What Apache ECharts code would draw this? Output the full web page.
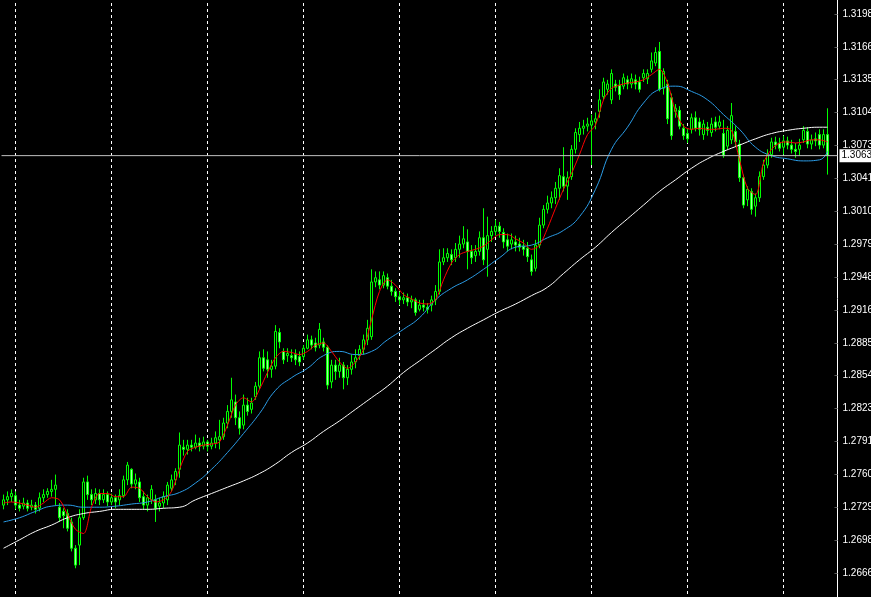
<!DOCTYPE html>
<html><head><meta charset="utf-8">
<script src="https://cdn.jsdelivr.net/npm/echarts@6/dist/echarts.min.js"></script>
<style>html,body{margin:0;padding:0;background:#000;}#c{width:871px;height:597px;}</style>
</head><body><div id="c"></div>
<script>
// Candles: [open, close, low, high]
const ohlc = [
[1.2731,1.2736,1.2727,1.2741],[1.2736,1.2739,1.2731,1.2744],[1.2739,1.2742,1.2734,1.2746],[1.2740,1.2731,1.2727,1.2744],
[1.2731,1.2728,1.2725,1.2736],[1.2730,1.2733,1.2727,1.2738],[1.2733,1.2728,1.2725,1.2736],[1.2729,1.2731,1.2726,1.2736],
[1.2731,1.2727,1.2723,1.2734],[1.2728,1.2738,1.2725,1.2743],[1.2738,1.2741,1.2734,1.2746],[1.2741,1.2744,1.2738,1.2747],
[1.2744,1.2746,1.2739,1.2755],[1.2746,1.2750,1.2731,1.2760],[1.2729,1.2719,1.2715,1.2733],[1.2725,1.2721,1.2709,1.2728],
[1.2723,1.2709,1.2706,1.2727],[1.2715,1.2690,1.2687,1.2719],[1.2690,1.2674,1.2671,1.2693],[1.2693,1.2719,1.2674,1.2727],
[1.2719,1.2753,1.2717,1.2757],[1.2753,1.2741,1.2736,1.2759],[1.2741,1.2736,1.2731,1.2746],[1.2736,1.2742,1.2732,1.2747],
[1.2742,1.2736,1.2731,1.2746],[1.2736,1.2741,1.2733,1.2746],[1.2741,1.2734,1.2730,1.2744],[1.2734,1.2738,1.2731,1.2742],
[1.2738,1.2734,1.2728,1.2741],[1.2736,1.2740,1.2731,1.2746],[1.2740,1.2755,1.2738,1.2759],[1.2755,1.2769,1.2750,1.2772],
[1.2765,1.2751,1.2747,1.2766],[1.2751,1.2755,1.2746,1.2761],[1.2753,1.2738,1.2734,1.2757],[1.2739,1.2731,1.2727,1.2744],
[1.2731,1.2738,1.2725,1.2741],[1.2736,1.2746,1.2732,1.2750],[1.2736,1.2728,1.2715,1.2741],[1.2730,1.2733,1.2725,1.2738],
[1.2733,1.2739,1.2728,1.2744],[1.2736,1.2750,1.2731,1.2753],[1.2747,1.2755,1.2744,1.2760],[1.2755,1.2763,1.2750,1.2766],
[1.2765,1.2788,1.2757,1.2800],[1.2786,1.2784,1.2778,1.2793],[1.2784,1.2788,1.2779,1.2793],[1.2788,1.2786,1.2782,1.2793],
[1.2786,1.2790,1.2784,1.2798],[1.2790,1.2787,1.2782,1.2795],[1.2787,1.2791,1.2784,1.2796],[1.2791,1.2787,1.2782,1.2793],
[1.2787,1.2790,1.2784,1.2795],[1.2790,1.2795,1.2785,1.2801],[1.2793,1.2796,1.2784,1.2812],[1.2796,1.2809,1.2793,1.2814],
[1.2809,1.2820,1.2804,1.2826],[1.2820,1.2831,1.2814,1.2852],[1.2829,1.2814,1.2807,1.2836],[1.2814,1.2804,1.2798,1.2820],
[1.2807,1.2826,1.2803,1.2836],[1.2826,1.2820,1.2816,1.2833],[1.2822,1.2828,1.2818,1.2833],[1.2834,1.2844,1.2831,1.2848],
[1.2844,1.2871,1.2841,1.2877],[1.2871,1.2861,1.2858,1.2879],[1.2869,1.2860,1.2852,1.2877],[1.2860,1.2863,1.2852,1.2869],
[1.2863,1.2896,1.2860,1.2902],[1.2895,1.2886,1.2880,1.2899],[1.2877,1.2869,1.2865,1.2880],[1.2873,1.2875,1.2867,1.2880],
[1.2873,1.2871,1.2867,1.2879],[1.2874,1.2869,1.2864,1.2879],[1.2872,1.2867,1.2863,1.2877],[1.2872,1.2880,1.2869,1.2883],
[1.2880,1.2888,1.2879,1.2893],[1.2888,1.2883,1.2879,1.2892],[1.2885,1.2881,1.2877,1.2890],[1.2883,1.2898,1.2880,1.2904],
[1.2886,1.2881,1.2877,1.2890],[1.2881,1.2845,1.2841,1.2883],[1.2848,1.2864,1.2842,1.2869],[1.2864,1.2858,1.2850,1.2869],
[1.2858,1.2864,1.2852,1.2871],[1.2864,1.2852,1.2841,1.2867],[1.2852,1.2860,1.2845,1.2864],[1.2860,1.2867,1.2855,1.2874],
[1.2867,1.2871,1.2861,1.2879],[1.2873,1.2879,1.2869,1.2883],[1.2879,1.2888,1.2874,1.2893],[1.2888,1.2899,1.2883,1.2907],
[1.2891,1.2943,1.2888,1.2955],[1.2943,1.2947,1.2938,1.2953],[1.2945,1.2940,1.2936,1.2953],[1.2940,1.2949,1.2937,1.2953],
[1.2947,1.2939,1.2936,1.2951],[1.2939,1.2934,1.2930,1.2945],[1.2934,1.2929,1.2924,1.2937],[1.2929,1.2926,1.2921,1.2934],
[1.2926,1.2928,1.2922,1.2933],[1.2928,1.2924,1.2920,1.2932],[1.2924,1.2926,1.2918,1.2930],[1.2926,1.2914,1.2911,1.2928],
[1.2917,1.2921,1.2915,1.2926],[1.2921,1.2919,1.2915,1.2926],[1.2919,1.2917,1.2913,1.2923],[1.2921,1.2926,1.2915,1.2930],
[1.2926,1.2934,1.2921,1.2940],[1.2934,1.2962,1.2931,1.2974],[1.2962,1.2966,1.2959,1.2975],[1.2966,1.2970,1.2962,1.2975],
[1.2969,1.2964,1.2959,1.2974],[1.2966,1.2974,1.2962,1.2980],[1.2974,1.2979,1.2966,1.2987],[1.2979,1.2984,1.2975,1.2996],
[1.2981,1.2972,1.2955,1.2993],[1.2972,1.2966,1.2960,1.2978],[1.2968,1.2972,1.2962,1.2978],[1.2972,1.2985,1.2968,1.2991],
[1.2985,1.2964,1.2959,1.3013],[1.2974,1.2987,1.2948,1.3005],[1.2987,1.2991,1.2981,1.2996],[1.2991,1.2996,1.2987,1.3002],
[1.2996,1.2991,1.2985,1.3000],[1.2990,1.2981,1.2975,1.2994],[1.2983,1.2977,1.2972,1.2989],[1.2979,1.2983,1.2974,1.2989],
[1.2981,1.2978,1.2972,1.2987],[1.2979,1.2976,1.2972,1.2985],[1.2977,1.2974,1.2968,1.2983],[1.2975,1.2967,1.2962,1.2981],
[1.2964,1.2953,1.2949,1.2969],[1.2956,1.2978,1.2953,1.2983],[1.2978,1.2997,1.2975,1.3004],[1.2997,1.3012,1.2994,1.3016],
[1.3012,1.3018,1.3008,1.3025],[1.3018,1.3023,1.3013,1.3029],[1.3023,1.3032,1.3017,1.3038],[1.3032,1.3044,1.3021,1.3051],
[1.3043,1.3034,1.3029,1.3071],[1.3034,1.3042,1.3021,1.3048],[1.3043,1.3069,1.3040,1.3073],[1.3069,1.3085,1.3065,1.3089],
[1.3083,1.3089,1.3076,1.3095],[1.3089,1.3091,1.3083,1.3097],[1.3091,1.3093,1.3086,1.3099],[1.3092,1.3096,1.3054,1.3102],
[1.3095,1.3098,1.3088,1.3104],[1.3105,1.3116,1.3099,1.3126],[1.3119,1.3133,1.3116,1.3137],[1.3126,1.3131,1.3121,1.3135],
[1.3116,1.3141,1.3112,1.3145],[1.3131,1.3128,1.3124,1.3135],[1.3130,1.3121,1.3116,1.3135],[1.3129,1.3137,1.3126,1.3141],
[1.3135,1.3131,1.3126,1.3139],[1.3131,1.3136,1.3127,1.3141],[1.3135,1.3131,1.3126,1.3140],[1.3133,1.3126,1.3123,1.3138],
[1.3137,1.3141,1.3133,1.3145],[1.3136,1.3141,1.3131,1.3145],[1.3145,1.3153,1.3142,1.3161],[1.3151,1.3161,1.3148,1.3166],
[1.3162,1.3126,1.3124,1.3171],[1.3127,1.3143,1.3121,1.3146],[1.3131,1.3098,1.3093,1.3135],[1.3118,1.3082,1.3078,1.3122],
[1.3105,1.3108,1.3099,1.3112],[1.3106,1.3091,1.3088,1.3110],[1.3089,1.3082,1.3078,1.3093],[1.3084,1.3079,1.3075,1.3089],
[1.3088,1.3099,1.3084,1.3103],[1.3099,1.3089,1.3086,1.3105],[1.3095,1.3088,1.3082,1.3099],[1.3083,1.3093,1.3078,1.3097],
[1.3090,1.3087,1.3082,1.3095],[1.3085,1.3093,1.3081,1.3099],[1.3095,1.3090,1.3086,1.3100],[1.3091,1.3095,1.3088,1.3101],
[1.3084,1.3063,1.3061,1.3097],[1.3072,1.3087,1.3069,1.3091],[1.3078,1.3101,1.3074,1.3113],[1.3086,1.3076,1.3072,1.3091],
[1.3074,1.3042,1.3038,1.3078],[1.3042,1.3016,1.3013,1.3045],[1.3021,1.3031,1.3015,1.3034],[1.3029,1.3012,1.3007,1.3032],
[1.3015,1.3023,1.3005,1.3027],[1.3023,1.3043,1.3019,1.3048],[1.3043,1.3054,1.3040,1.3059],[1.3054,1.3064,1.3051,1.3069],
[1.3064,1.3076,1.3061,1.3080],[1.3076,1.3073,1.3069,1.3081],[1.3075,1.3070,1.3067,1.3080],[1.3071,1.3077,1.3064,1.3082],
[1.3077,1.3073,1.3069,1.3081],[1.3073,1.3069,1.3065,1.3078],[1.3069,1.3067,1.3061,1.3075],[1.3069,1.3073,1.3063,1.3079],
[1.3078,1.3087,1.3075,1.3091],[1.3086,1.3074,1.3070,1.3090],[1.3074,1.3078,1.3069,1.3083],[1.3079,1.3077,1.3072,1.3085],
[1.3083,1.3073,1.3069,1.3088],[1.3073,1.3083,1.3070,1.3088],[1.3083,1.3063,1.3045,1.3108]
];
const emptySlots = 2;           // chart shift on the right
const daySeparators = [3, 27, 51, 75, 99, 123, 147, 171, 195];
const lastPrice = 1.3063;

// Moving averages (white: slow, blue: medium every 4 bars; red: fast every 2 bars)
const whiteMA = [1.2690,1.2698,1.2706,1.2712,1.2719,1.2723,1.2725,1.2727,1.2727,1.2727,1.2728,1.2729,1.2736,1.2742,1.2748,1.2754,1.2761,1.2770,1.2781,1.2790,1.2801,1.2811,1.2822,1.2833,1.2844,1.2857,1.2868,1.2879,1.2890,1.2899,1.2907,1.2915,1.2922,1.2930,1.2938,1.2951,1.2964,1.2976,1.2990,1.3003,1.3016,1.3029,1.3040,1.3051,1.3060,1.3067,1.3073,1.3079,1.3084,1.3087,1.3089,1.3090,1.3090];
const blueMA = [1.2715,1.2719,1.2725,1.2730,1.2731,1.2729,1.2729,1.2730,1.2732,1.2734,1.2739,1.2743,1.2752,1.2765,1.2781,1.2799,1.2818,1.2840,1.2852,1.2861,1.2873,1.2877,1.2874,1.2877,1.2888,1.2898,1.2909,1.2926,1.2937,1.2945,1.2955,1.2966,1.2976,1.2978,1.2985,1.2992,1.3005,1.3031,1.3069,1.3090,1.3113,1.3126,1.3129,1.3124,1.3116,1.3102,1.3088,1.3071,1.3063,1.3060,1.3058,1.3059,1.3067];
const redMA = [
1.2733,1.2734,1.2733,1.2731,1.2729,1.2733,1.2738,1.2736,1.2722,1.2708,
1.2704,1.2729,1.2742,1.2742,1.2739,1.2739,1.2748,1.2747,1.2739,1.2734,
1.2736,1.2744,1.2765,1.2782,1.2786,1.2788,1.2789,1.2791,1.2807,1.2826,
1.2833,1.2829,1.2841,1.2857,1.2871,1.2877,1.2876,1.2874,1.2877,1.2883,
1.2885,1.2877,1.2867,1.2861,1.2867,1.2879,1.2907,1.2934,1.2945,1.2940,
1.2931,1.2927,1.2923,1.2922,1.2926,1.2945,1.2961,1.2969,1.2972,1.2974,
1.2977,1.2983,1.2988,1.2988,1.2984,1.2980,1.2974,1.2978,1.2994,1.3013,
1.3031,1.3046,1.3064,1.3083,1.3092,1.3116,1.3127,1.3130,1.3132,1.3133,
1.3135,1.3140,1.3145,1.3132,1.3105,1.3091,1.3088,1.3089,1.3088,1.3088,
1.3089,1.3087,1.3059,1.3032,1.3026,1.3056,1.3069,1.3075,1.3076,1.3075,
1.3076,1.3078,1.3078,1.3076];

// Price axis
const priceTickLabels = ['1.2666','1.2698','1.2729','1.2760','1.2791','1.2823','1.2854','1.2885','1.2916','1.2948','1.2979','1.3010','1.3041','1.3073','1.3104','1.3135','1.3166','1.3198'];
const Y_STEP = 0.003125;
const Y_MIN = 1.263515;
const Y_MAX = 1.322890;

const nBars = ohlc.length;
const categories = Array.from({length: nBars + emptySlots}, (_, i) => String(i));
const slowBars = whiteMA.map((_, k) => k < whiteMA.length - 1 ? k * 4 : nBars - 1);
const whiteData = whiteMA.map((v, k) => [slowBars[k], v]);
const blueData = blueMA.map((v, k) => [slowBars[k], v]);
const redData = redMA.map((v, k) => [k * 2, v]);

const chart = echarts.init(document.getElementById('c'), null, {renderer: 'canvas'});
chart.setOption({
  backgroundColor: '#000000',
  animation: false,
  grid: {left: 1.5, right: 33.5, top: -19, bottom: -9, containLabel: false, outerBoundsMode: 'none'},
  xAxis: [
    {
      type: 'category', data: categories, boundaryGap: true,
      axisLine: {show: false}, axisTick: {show: false}, axisLabel: {show: false}, splitLine: {show: false}
    },
    {type: 'value', min: 0, max: 1, show: false, axisLine: {show: false, onZero: false}, splitLine: {show: false}}
  ],
  yAxis: {
    type: 'value', position: 'right', min: Y_MIN, max: Y_MAX, interval: Y_STEP,
    axisLine: {show: true, onZero: false, lineStyle: {color: '#ffffff', width: 1}},
    axisTick: {show: true, inside: true, length: 3, lineStyle: {color: '#5a5a5a'}},
    splitLine: {show: false},
    axisLabel: {
      color: '#ffffff', fontSize: 10, fontFamily: 'Liberation Sans', margin: 5,
      formatter: function (v) {
        const n = Math.round((v - Y_MIN) / Y_STEP);
        return priceTickLabels[n - 1] || '';
      }
    }
  },
  series: [
    {
      type: 'candlestick', data: ohlc, barWidth: 3, z: 2,
      itemStyle: {color: '#000000', color0: '#9dff9d', borderColor: '#00ff00', borderColor0: '#00ff00', borderWidth: 1}
    },
    {
      type: 'line', data: whiteData, symbol: 'none', smooth: true, z: 3,
      lineStyle: {color: '#ffffff', width: 1},
      markLine: {
        silent: true, symbol: 'none', z: 1, animation: false,
        lineStyle: {color: '#ffffff', width: 1, type: [3, 3]},
        label: {show: false},
        data: daySeparators.map(i => ({xAxis: i}))
      }
    },
    {type: 'line', data: blueData, symbol: 'none', smooth: true, z: 3, lineStyle: {color: '#2b9ce6', width: 1}},
    {type: 'line', data: redData, symbol: 'none', smooth: 0.3, z: 3, lineStyle: {color: '#ff0000', width: 1}},
    {
      type: 'line', xAxisIndex: 1, data: [[0, lastPrice], [1, lastPrice]], symbol: 'none', z: 4, silent: true,
      lineStyle: {color: '#c0c0c0', width: 1},
      endLabel: {show: true, distance: 2, formatter: lastPrice.toFixed(4),
        color: '#000000', backgroundColor: '#ffffff', padding: [2, 3, 1, 2], fontSize: 10, fontFamily: 'Liberation Sans'}
    }
  ]
});
</script>
</body></html>
